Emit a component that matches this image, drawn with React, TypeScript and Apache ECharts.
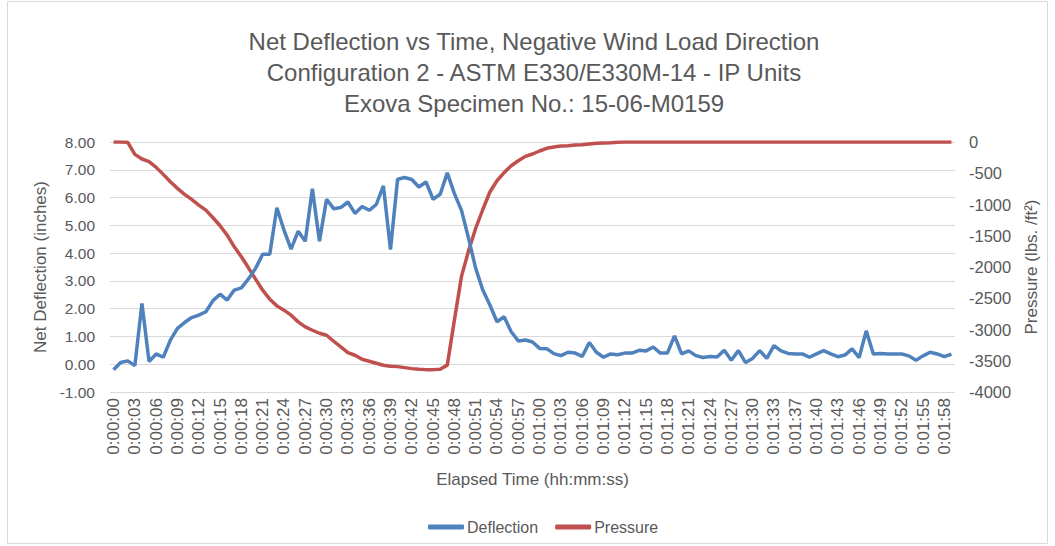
import React, { useEffect, useRef } from "react";
import * as echarts from "echarts";

const TITLE_LINES = [
  "Net Deflection vs Time, Negative Wind Load Direction",
  "Configuration 2 - ASTM E330/E330M-14 - IP Units",
  "Exova Specimen No.: 15-06-M0159",
];

// elapsed seconds of each sample (one second, 0:01:35, is missing in the record)
const SKIPPED_AFTER_INDEX = 94;
const SAMPLE_COUNT = 119;

const deflection = [
  -0.2, 0.06, 0.12, -0.05, 2.19, 0.1, 0.37, 0.25, 0.87, 1.29,
  1.5, 1.68, 1.77, 1.89, 2.29, 2.52, 2.31, 2.67, 2.75, 3.07,
  3.45, 3.96, 3.96, 5.63, 4.83, 4.14, 4.79, 4.43, 6.32, 4.43,
  5.94, 5.6, 5.64, 5.84, 5.43, 5.68, 5.54, 5.75, 6.42, 4.13,
  6.66, 6.72, 6.65, 6.38, 6.56, 5.94, 6.12, 6.89, 6.14, 5.54,
  4.53, 3.45, 2.67, 2.13, 1.53, 1.71, 1.17, 0.84, 0.87, 0.8,
  0.57, 0.56, 0.38, 0.31, 0.43, 0.4, 0.28, 0.78, 0.43, 0.25,
  0.37, 0.34, 0.4, 0.4, 0.5, 0.48, 0.62, 0.4, 0.4, 1.02,
  0.37, 0.48, 0.31, 0.24, 0.28, 0.26, 0.5, 0.14, 0.49, 0.06,
  0.21, 0.49, 0.21, 0.67, 0.48, 0.39, 0.37, 0.37, 0.25, 0.37,
  0.49, 0.37, 0.27, 0.33, 0.55, 0.24, 1.2, 0.37, 0.39, 0.37,
  0.37, 0.37, 0.3, 0.14, 0.3, 0.43, 0.37, 0.27, 0.36,
];

const pressure = [
  0, 0, -5, -198, -272, -315, -406, -518, -636, -742,
  -838, -918, -1009, -1089, -1212, -1340, -1490, -1677, -1837, -2013,
  -2194, -2371, -2515, -2622, -2691, -2771, -2878, -2958, -3012, -3060,
  -3092, -3188, -3279, -3370, -3412, -3476, -3508, -3540, -3572, -3588,
  -3594, -3610, -3626, -3637, -3642, -3642, -3637, -3570, -2850, -2150,
  -1740, -1380, -1080, -800, -620, -490, -380, -300, -230, -192,
  -144, -101, -80, -64, -59, -48, -43, -32, -21, -16,
  -11, -5, 0, 0, 0, 0, 0, 0, 0, 0,
  0, 0, 0, 0, 0, 0, 0, 0, 0, 0,
  0, 0, 0, 0, 0, 0, 0, 0, 0, 0,
  0, 0, 0, 0, 0, 0, 0, 0, 0, 0,
  0, 0, 0, 0, 0, 0, 0, 0, 0,
];

function fmtTime(s: number): string {
  const h = Math.floor(s / 3600);
  const m = Math.floor((s % 3600) / 60);
  const sec = s % 60;
  return `${h}:${String(m).padStart(2, "0")}:${String(sec).padStart(2, "0")}`;
}

const categories: string[] = [];
for (let i = 0; i < SAMPLE_COUNT; i++) {
  categories.push(fmtTime(i <= SKIPPED_AFTER_INDEX ? i : i + 1));
}

const FONT = "Liberation Sans, Arial, sans-serif";
const GRAY = "#595959";
const BLUE = "#4F81BD";
const RED = "#C0504D";

export default function App() {
  const ref = useRef<HTMLDivElement>(null);

  useEffect(() => {
    if (!ref.current) return;
    const chart = echarts.init(ref.current, undefined, { renderer: "svg" });
    chart.setOption({
      animation: false,
      backgroundColor: "#ffffff",
      textStyle: { fontFamily: FONT },
      graphic: [
        {
          type: "rect",
          shape: { x: 7.5, y: 1.5, width: 1040, height: 542 },
          style: { fill: "none", stroke: "#d9d9d9", lineWidth: 1 },
          silent: true,
        },
        ...TITLE_LINES.map((t, k) => ({
          type: "text",
          x: 534,
          y: 41 + k * 31,
          style: {
            text: t,
            fill: GRAY,
            font: `24px ${FONT}`,
            textAlign: "center",
            textVerticalAlign: "middle",
          },
        })),
      ],
      legend: {
        left: 423,
        top: 514,
        itemWidth: 36,
        itemHeight: 5,
        itemGap: 17,
        icon: "roundRect",
        textStyle: { color: GRAY, fontSize: 16, fontFamily: FONT, padding: [0, 0, 0, -2] },
        data: ["Deflection", "Pressure"],
      },
      grid: { left: 110, right: 100, top: 142, bottom: 154, containLabel: false },
      xAxis: {
        type: "category",
        data: categories,
        boundaryGap: true,
        axisLine: { show: false },
        axisTick: { show: false },
        axisLabel: {
          interval: 2,
          rotate: 90,
          color: GRAY,
          fontSize: 17,
          fontFamily: FONT,
          margin: 6,
        },
        name: "Elapsed Time (hh:mm:ss)",
        nameLocation: "middle",
        nameGap: 79,
        nameTextStyle: { color: GRAY, fontSize: 17, fontFamily: FONT },
      },
      yAxis: [
        {
          type: "value",
          min: -1,
          max: 8,
          interval: 1,
          axisLine: { show: false },
          axisTick: { show: false },
          splitLine: { lineStyle: { color: "#d9d9d9", width: 1 } },
          axisLabel: {
            color: GRAY,
            fontSize: 15.5,
            fontFamily: FONT,
            margin: 15,
            formatter: (v: number) => v.toFixed(2),
          },
          name: "Net Deflection (inches)",
          nameLocation: "middle",
          nameGap: 58,
          nameTextStyle: { color: GRAY, fontSize: 17, fontFamily: FONT },
        },
        {
          type: "value",
          min: -4000,
          max: 0,
          interval: 500,
          position: "right",
          axisLine: { show: false },
          axisTick: { show: false },
          splitLine: { show: false },
          axisLabel: {
            color: GRAY,
            fontSize: 16.5,
            fontFamily: FONT,
            margin: 14,
            formatter: (v: number) => String(Math.round(v)),
          },
          name: "Pressure (lbs. /ft²)",
          nameLocation: "middle",
          nameGap: 68,
          nameRotate: 90,
          nameTextStyle: { color: GRAY, fontSize: 17, fontFamily: FONT },
        },
      ],
      series: [
        {
          name: "Deflection",
          type: "line",
          yAxisIndex: 0,
          data: deflection,
          symbol: "none",
          lineStyle: { color: BLUE, width: 3.5 },
          itemStyle: { color: BLUE },
          z: 3,
        },
        {
          name: "Pressure",
          type: "line",
          yAxisIndex: 1,
          data: pressure,
          symbol: "none",
          lineStyle: { color: RED, width: 3.5 },
          itemStyle: { color: RED },
          z: 2,
        },
      ],
    });
    return () => chart.dispose();
  }, []);

  return (
    <div
      ref={ref}
      style={{ position: "fixed", left: 0, top: 0, width: 1055, height: 546 }}
    />
  );
}
